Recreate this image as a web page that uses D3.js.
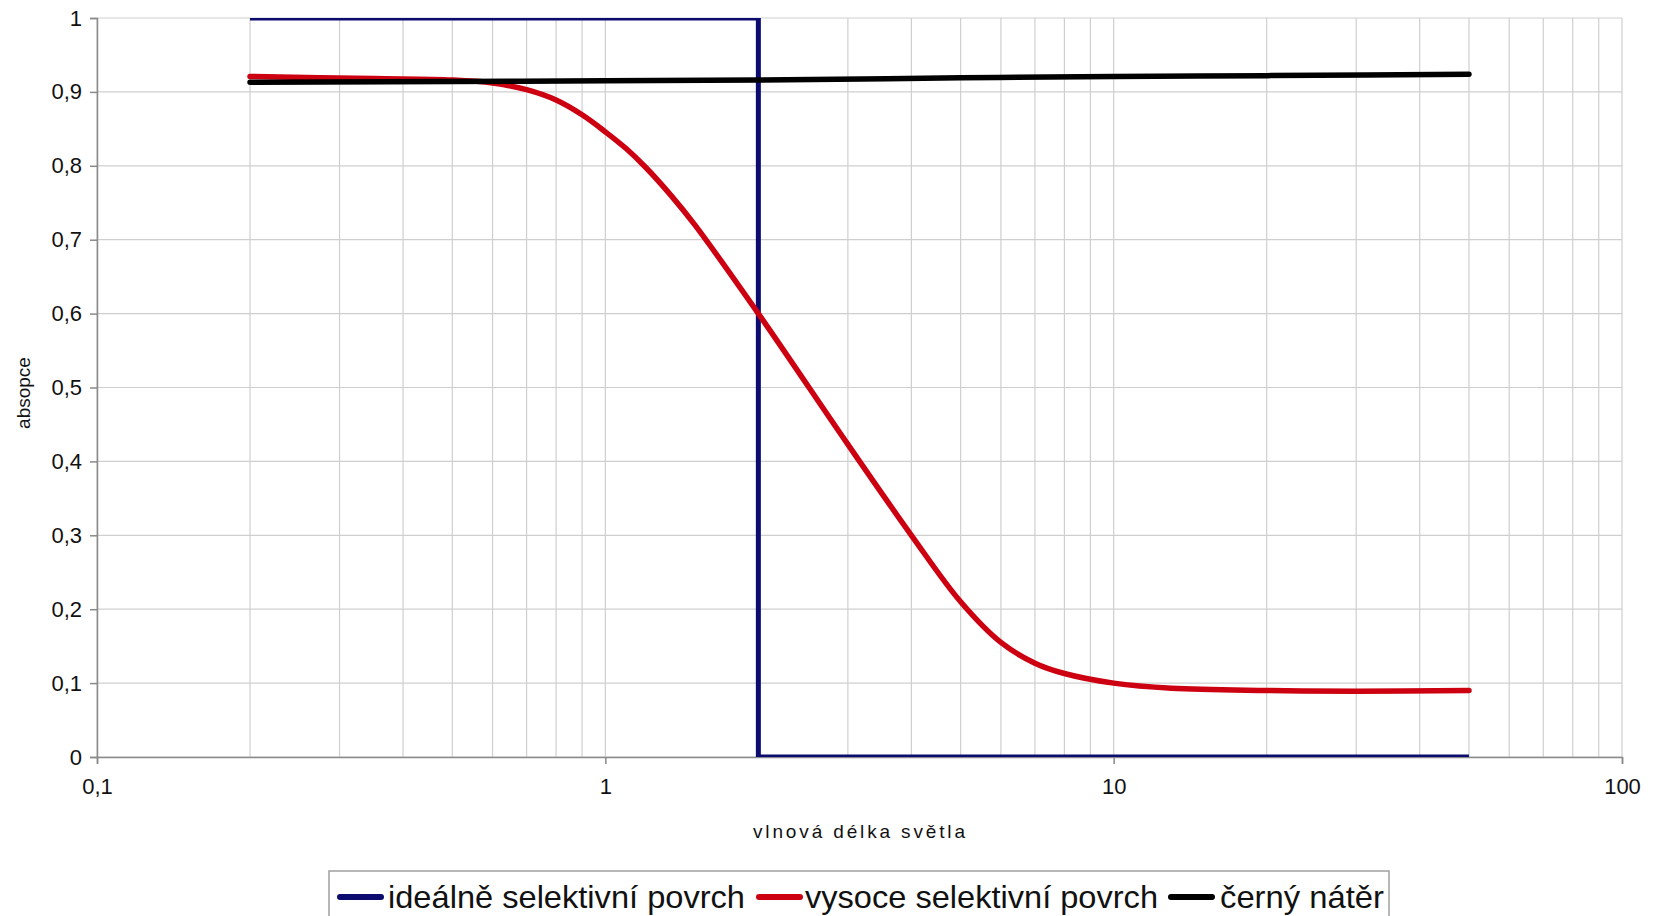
<!DOCTYPE html>
<html><head><meta charset="utf-8">
<script src="https://cdn.jsdelivr.net/npm/d3@7"></script>
<style>body{margin:0;background:#fff}svg{display:block}text{font-family:"Liberation Sans",Arial,sans-serif;fill:#111}</style>
</head><body><svg id="c" width="1666" height="916"></svg>
<script>
// Data
const idealX = [0.2, 2, 2, 50];
const idealY = [1, 1, 0, 0];
const selX = [0.2, 0.35, 0.5, 0.6, 0.7, 0.8, 0.9, 1.0, 1.1, 1.2, 1.35, 1.5, 2, 3, 4, 5, 6, 7, 8, 10, 13, 20, 30, 50];
const selY = [0.921, 0.918, 0.916, 0.912, 0.903, 0.889, 0.869, 0.846, 0.823, 0.798, 0.759, 0.720, 0.600, 0.423, 0.300, 0.210, 0.155, 0.127, 0.113, 0.100, 0.093, 0.090, 0.089, 0.090];
const blackX = [0.2, 0.5, 1, 2, 5, 10, 20, 50];
const blackY = [0.913, 0.914, 0.915, 0.916, 0.919, 0.921, 0.922, 0.924];
const yTicks = [0, 0.1, 0.2, 0.3, 0.4, 0.5, 0.6, 0.7, 0.8, 0.9, 1];
const xMajor = [0.1, 1, 10, 100];
const seriesNames = ["ideálně selektivní povrch", "vysoce selektivní povrch", "černý nátěr"];
const seriesColors = ["#0b0b70", "#cc0010", "#000000"];
const xTitle = "vlnová délka světla";
const yTitle = "absopce";

const svg = d3.select("#c");
const L = 97, R = 1622, T = 18, B = 757;
const x = d3.scaleLog().domain([0.1, 100]).range([L, R]);
const y = d3.scaleLinear().domain([0, 1]).range([B, T]);
const fmt = v => String(v).replace(".", ",");

// minor gridlines
const minor = [];
[0.1, 1, 10].forEach(d => { for (let k = 1; k <= 9; k++) minor.push(+(d * k).toPrecision(3)); });
minor.push(100);
svg.append("g").selectAll("line").data(minor).join("line")
  .attr("x1", d => x(d)).attr("x2", d => x(d)).attr("y1", T).attr("y2", B)
  .attr("stroke", "#cfcfcf").attr("stroke-width", 1.2);
svg.append("g").selectAll("line").data(yTicks).join("line")
  .attr("x1", L).attr("x2", R).attr("y1", d => y(d)).attr("y2", d => y(d))
  .attr("stroke", "#cfcfcf").attr("stroke-width", 1.2);

// axes
const yAxis = d3.axisLeft(y).tickValues(yTicks).tickFormat(fmt).tickSize(7).tickPadding(8);
const gy = svg.append("g").attr("transform", `translate(${L},0)`).call(yAxis);
gy.select(".domain").attr("stroke", "#8a8a8a").attr("stroke-width", 1.5);
gy.selectAll(".tick line").attr("stroke", "#8a8a8a").attr("stroke-width", 1.5);
gy.selectAll(".tick text").attr("font-size", 22).attr("font-family", "Liberation Sans, Arial").attr("fill", "#111");

const xAxis = d3.axisBottom(x).tickValues(xMajor).tickFormat(fmt).tickSize(7).tickPadding(14);
const gx = svg.append("g").attr("transform", `translate(0,${B})`).call(xAxis);
gx.select(".domain").attr("stroke", "#8a8a8a").attr("stroke-width", 1.5);
gx.selectAll(".tick line").attr("stroke", "#8a8a8a").attr("stroke-width", 1.5);
gx.selectAll(".tick text").attr("font-size", 22).attr("font-family", "Liberation Sans, Arial").attr("fill", "#111");

// titles
svg.append("text").attr("x", 859).attr("y", 838).attr("text-anchor", "middle")
  .attr("font-size", 19).attr("textLength", 212).attr("lengthAdjust", "spacing").text(xTitle);
svg.append("text").attr("transform", "translate(30,393) rotate(-90)").attr("text-anchor", "middle")
  .attr("font-size", 19).text(yTitle);

// clip
svg.append("clipPath").attr("id", "clip").append("rect").attr("x", L).attr("y", T).attr("width", R - L).attr("height", B - T);

const line = d3.line().x(d => x(d[0])).y(d => y(d[1]));
const plot = svg.append("g").attr("clip-path", "url(#clip)");
plot.append("path").datum(idealX.map((v, i) => [v, idealY[i]]))
  .attr("d", line).attr("fill", "none").attr("stroke", seriesColors[0]).attr("stroke-width", 5);
plot.append("path").datum(selX.map((v, i) => [v, selY[i]]))
  .attr("d", line.curve(d3.curveCatmullRom.alpha(0.5))).attr("fill", "none").attr("stroke", seriesColors[1]).attr("stroke-width", 5.5).attr("stroke-linejoin", "round").attr("stroke-linecap", "round");
plot.append("path").datum(blackX.map((v, i) => [v, blackY[i]]))
  .attr("d", line.curve(d3.curveMonotoneX)).attr("fill", "none").attr("stroke", seriesColors[2]).attr("stroke-width", 5.5).attr("stroke-linecap", "round");

// legend
const lg = svg.append("g");
lg.append("rect").attr("x", 329).attr("y", 871).attr("width", 1060).attr("height", 70)
  .attr("fill", "#fff").attr("stroke", "#a0a0a0").attr("stroke-width", 1.5);
const items = [
  {sx: 338, tx: 388, tw: 357},
  {sx: 757, tx: 805, tw: 353},
  {sx: 1169, tx: 1220, tw: 164}
];
items.forEach((it, i) => {
  lg.append("line").attr("x1", it.sx + 2).attr("x2", it.sx + 43).attr("y1", 897).attr("y2", 897)
    .attr("stroke", seriesColors[i]).attr("stroke-width", 6).attr("stroke-linecap", "round");
  lg.append("text").attr("x", it.tx).attr("y", 908).attr("font-size", 32)
    .attr("textLength", it.tw).attr("lengthAdjust", "spacingAndGlyphs").text(seriesNames[i]);
});
</script></body></html>
